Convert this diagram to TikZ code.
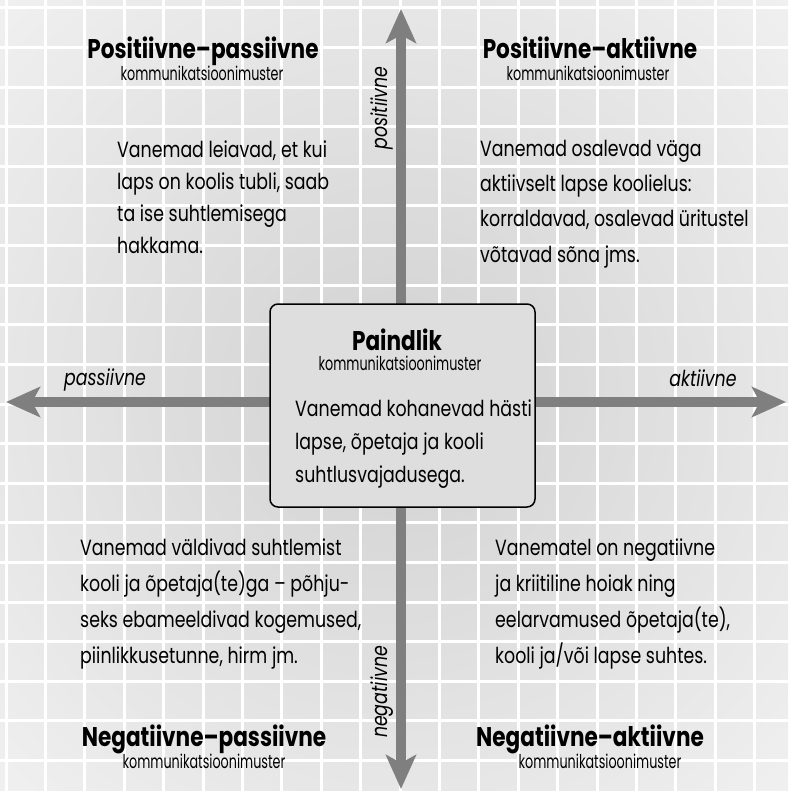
\documentclass[tikz,border=0pt]{standalone}
\usepackage{fontspec}
\setmainfont{Poppins}[FakeStretch=0.79]
\newfontfamily\titlefont{Poppins}[FakeStretch=0.8]
\newfontfamily\subfont{Poppins}[FakeStretch=0.67]
\usetikzlibrary{arrows.meta}

\definecolor{axisgray}{HTML}{7F7F7F}
\definecolor{bgmid}{HTML}{D6D6D6}
\definecolor{bgedge}{HTML}{FDFDFD}
\definecolor{boxfill}{HTML}{DEDEDE}

% soft light-grey field, darkest in the middle
\pgfdeclareradialshading{tilefield}{\pgfpoint{0bp}{0bp}}{%
  color(0bp)=(bgmid); color(6bp)=(bgmid); color(50bp)=(bgedge)}

\tikzset{
  axis/.style={draw=axisgray, line width=10pt,
    arrows={Stealth[length=34pt,width=30pt,inset=8pt]-Stealth[length=34pt,width=30pt,inset=8pt]}},
  gridline/.style={white, line width=3pt},
  quadtitle/.style={font=\titlefont\bfseries\fontsize{27}{30}\selectfont, anchor=base, inner sep=0pt},
  quadsub/.style={font=\subfont\fontsize{19}{20}\selectfont, anchor=base, inner sep=0pt},
  bodyline/.style={font=\fontsize{22}{25}\selectfont, anchor=base west, inner sep=0pt},
  axislabel/.style={font=\itshape\fontsize{22}{25}\selectfont, anchor=base, inner sep=0pt},
  centerbox/.style={draw=black, line width=1.5pt, rounded corners=8pt, fill=boxfill,
    minimum width=265pt, minimum height=203pt, inner sep=0pt}
}

\begin{document}
\begin{tikzpicture}[x=1pt,y=-1pt]
\useasboundingbox (0,0) rectangle (788,791);

% background tiles
\shade[shading=tilefield] (0,0) rectangle (788,791);
\foreach \i in {0,...,20} {
  \draw[gridline] ({6+39.4*\i},0) -- ++(0,791);
  \draw[gridline] (0,{8+39.6*\i}) -- ++(788,0);
}

% axes
\coordinate (top) at (401,9);
\coordinate (bottom) at (401,789);
\coordinate (left) at (6,402);
\coordinate (right) at (786,402);
\draw[axis] (bottom) -- (top);
\draw[axis] (left) -- (right);

% axis labels
\node[axislabel, rotate=90] (lblpos) at (387,108) {positiivne};
\node[axislabel, rotate=90] (lblneg) at (387,692) {negatiivne};
\node[axislabel] (lblpas) at (105,385) {passiivne};
\node[axislabel] (lblakt) at (703,386) {aktiivne};

% centre box
\node[centerbox] (center) at (402.5,405.5) {};
\node[quadtitle] (ctitle) at (397,350) {Paindlik};
\node[quadsub] (csub) at (400,370) {kommunikatsioonimuster};
\foreach \t [count=\i] in {{Vanemad kohanevad hästi},{lapse, õpetaja ja kooli},{suhtlusvajadusega.}}
  \node[bodyline] (c-\i) at (295,{416+33*(\i-1)}) {\t};

% quadrant titles
\node[quadtitle] (pptitle) at (203,59) {Positiivne–passiivne};
\node[quadsub] (ppsub) at (202,81) {kommunikatsioonimuster};
\node[quadtitle] (patitle) at (590,59) {Positiivne–aktiivne};
\node[quadsub] (pasub) at (588,81) {kommunikatsioonimuster};
\node[quadtitle] (nptitle) at (204,746) {Negatiivne–passiivne};
\node[quadsub] (npsub) at (204,768) {kommunikatsioonimuster};
\node[quadtitle] (natitle) at (590,746) {Negatiivne–aktiivne};
\node[quadsub] (nasub) at (600,768) {kommunikatsioonimuster};

% quadrant texts
\foreach \t [count=\i] in {{Vanemad leiavad, et kui},{laps on koolis tubli, saab},{ta ise suhtlemisega},{hakkama.}}
  \node[bodyline] (tl-\i) at (117,{158+32*(\i-1)}) {\t};
\foreach \t [count=\i] in {{Vanemad osalevad väga},{aktiivselt lapse koolielus:},{korraldavad, osalevad üritustel},{võtavad sõna jms.}}
  \node[bodyline] (tr-\i) at (480,{157+35*(\i-1)}) {\t};
\foreach \t [count=\i] in {{Vanemad väldivad suhtlemist},{kooli ja õpetaja(te)ga – põhju-},{seks ebameeldivad kogemused,},{piinlikkusetunne, hirm jm.}}
  \node[bodyline] (bl-\i) at (80,{555+36*(\i-1)}) {\t};
\foreach \t [count=\i] in {{Vanematel on negatiivne},{ja kriitiline hoiak ning},{eelarvamused õpetaja(te),},{kooli ja/või lapse suhtes.}}
  \node[bodyline] (br-\i) at (495,{555+36*(\i-1)}) {\t};
\end{tikzpicture}
\end{document}
